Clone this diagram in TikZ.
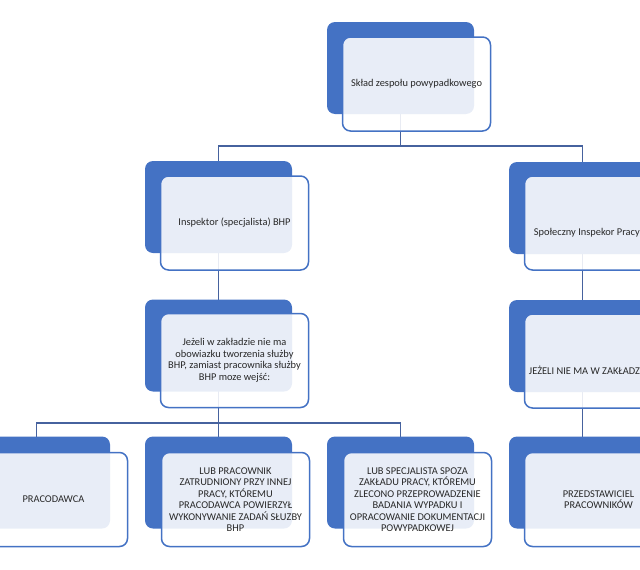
\documentclass[tikz,border=0pt]{standalone}
\usepackage{fontspec}
\setmainfont{Carlito}
\usetikzlibrary{backgrounds}

\definecolor{boxblue}{RGB}{68,114,196}
\definecolor{lineblue}{RGB}{70,98,158}
\definecolor{txtgray}{RGB}{40,40,40}

\tikzset{
  backbox/.style={rectangle, rounded corners=8pt, fill=boxblue, minimum width=147pt, minimum height=92pt, inner sep=0pt},
  frontbox/.style={rectangle, rounded corners=8pt, draw=boxblue, line width=1.5pt, fill=white, fill opacity=0.88, text opacity=1, minimum width=148pt, minimum height=94pt, inner sep=0pt, align=center, font=\fontsize{10.4}{11.5}\selectfont, text=txtgray},
  boxtext/.style={inner sep=0pt, font=\fontsize{10.4}{11.5}\selectfont, text=txtgray},
  link/.style={draw=lineblue, line width=1.5pt},
}

\begin{document}
\begin{tikzpicture}[x=1pt, y=-1pt]
    \path[use as bounding box, clip] (0,0) rectangle (640,570);

    % Back (blue) boxes
    \node[backbox] (sklad) at (400.5,68) {};
    \node[backbox] (insp) at (218.5,207) {};
    \node[backbox] (spol) at (582.5,208) {};
    \node[backbox] (brak) at (218.5,345.5) {};
    \node[backbox] (jezeli) at (582.5,346) {};
    \node[backbox] (pracod) at (36.5,482.5) {};
    \node[backbox] (pracow) at (218.5,482.5) {};
    \node[backbox] (specj) at (400.5,482.5) {};
    \node[backbox] (przedst) at (582.5,482.5) {};

    % Front boxes with text
    \node[frontbox] (skladF) at ([shift={(16,16)}]sklad.center) {Skład zespołu powypadkowego};
    \node[frontbox] (inspF) at ([shift={(16,16)}]insp.center) {Inspektor (specjalista) BHP};
    \node[frontbox] (spolF) at ([shift={(16,15)}]spol.center) {};
    \node[frontbox] (brakF) at ([shift={(16,15)}]brak.center) {Jeżeli w zakładzie nie ma\\obowiazku tworzenia służby\\BHP, zamiast pracownika służby\\BHP moze wejść:};
    \node[frontbox] (jezeliF) at ([shift={(16,15)}]jezeli.center) {};
    \node[frontbox] (pracodF) at ([shift={(17,17)}]pracod.center) {PRACODAWCA};
    \node[frontbox] (pracowF) at ([shift={(17,17)}]pracow.center) {LUB PRACOWNIK\\ZATRUDNIONY PRZY INNEJ\\PRACY, KTÓREMU\\PRACODAWCA POWIERZYŁ\\WYKONYWANIE ZADAŃ SŁUZBY\\BHP};
    \node[frontbox] (specjF) at ([shift={(17,17)}]specj.center) {LUB SPECJALISTA SPOZA\\ZAKŁADU PRACY, KTÓREMU\\ZLECONO PRZEPROWADZENIE\\BADANIA WYPADKU I\\OPRACOWANIE DOKUMENTACJI\\POWYPADKOWEJ};
    \node[frontbox] (przedstF) at ([shift={(16,17)}]przedst.center) {PRZEDSTAWICIEL\\PRACOWNIKÓW};

    % Texts running off the right edge
    \node[boxtext, anchor=west] (spolT) at ([shift={(10,9.5)}]spolF.west) {Społeczny Inspekor Pracy};
    \node[boxtext, anchor=west] (jezeliT) at ([shift={(5,9.5)}]jezeliF.west) {JEŻELI NIE MA W ZAKŁADZIE};

    % Connectors
    \coordinate (bus1) at (400.5,146);
    \coordinate (bus3) at (218.5,423);
    \begin{scope}[on background layer]
        \draw[link] (sklad.center) |- (bus1) -| (insp.center);
        \draw[link] (bus1) -| (spol.center);
        \draw[link] (insp.center) -- (brak.center);
        \draw[link] (spol.center) -- (jezeli.center);
        \draw[link] (brak.center) |- (bus3) -| (pracod.center);
        \draw[link] (bus3) -| (specj.center);
        \draw[link] (bus3) -- (pracow.center);
        \draw[link] (jezeli.center) -- (przedst.center);
    \end{scope}
\end{tikzpicture}
\end{document}
